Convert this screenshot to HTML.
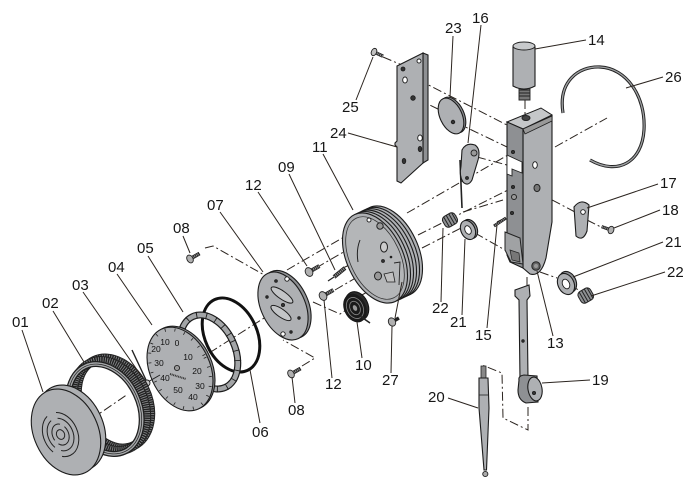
<!DOCTYPE html>
<html><head><meta charset="utf-8"><style>
html,body{margin:0;padding:0;background:#fff;}
svg{display:block}
text{font-family:"Liberation Sans",sans-serif;font-size:15px;fill:#161616}
.l{stroke:#2b241f;stroke-width:1;fill:none}
.d{stroke:#2b241f;stroke-width:1;fill:none;stroke-dasharray:9 3 2 3}
.g{fill:#aeb0b3;stroke:#1c1c1c;stroke-width:1.1}
.k{fill:#8e9093;stroke:#1c1c1c;stroke-width:1.1}
.lt{fill:#c3c5c7;stroke:#1c1c1c;stroke-width:1}
.h{fill:#fff;stroke:#1c1c1c;stroke-width:0.9}
.dk{fill:#333;stroke:#1c1c1c;stroke-width:0.8}
.n{font-size:8.5px;text-anchor:middle;fill:#111}
</style></head><body>
<svg width="700" height="485" viewBox="0 0 700 485" xmlns="http://www.w3.org/2000/svg">

<!-- dash-dot construction lines -->
<g class="d">
<polyline points="90,420 128,394"/>
<polyline points="195,362 283,306"/>
<polyline points="205,248 213,246 266,276"/>
<polyline points="302,366 315,358 283,340"/>
<polyline points="287,270 370,222"/>
<polyline points="316,268 378,232"/>
<polyline points="343,268 387,247"/>
<polyline points="313,302 340,314 352,306"/>
<polyline points="335,290 383,262"/>
<polyline points="360,296 382,284"/>
<polyline points="407,213 508,155"/>
<polyline points="418,235 512,188"/>
<polyline points="422,248 463,227"/>
<polyline points="475,233 535,267"/>
<polyline points="463,212 503,200"/>
<polyline points="403,72 507,125"/>
<polyline points="383,57 402,65"/>
<polyline points="415,98 440,110"/>
<polyline points="455,122 507,147"/>
<polyline points="477,157 507,165"/>
<polyline points="555,147 607,118"/>
<polyline points="537,192 575,212"/>
<polyline points="587,220 603,228"/>
<polyline points="525,100 525,115"/>
<polyline points="540,272 557,278"/>
<polyline points="570,285 582,292"/>
<polyline points="497,222 507,217"/>
<polyline points="527,277 527,286"/>
<polyline points="528,407 528,430 503,418 502,373 482,365"/>
</g>

<!-- 07 plate -->
<g transform="translate(286,304.5) rotate(-25)"><ellipse rx="22" ry="36" class="k"/></g>
<g transform="translate(283,306) rotate(-25)"><ellipse rx="22" ry="36" class="g"/></g>
<g transform="translate(282,295) rotate(35)"><ellipse rx="13" ry="4" class="lt"/></g>
<g transform="translate(281,313) rotate(35)"><ellipse rx="12" ry="4" class="lt"/></g>
<circle cx="287" cy="279" r="2.2" class="h"/>
<circle cx="276" cy="281" r="1.4" class="dk"/>
<circle cx="267" cy="297" r="1.3" class="dk"/>
<circle cx="299" cy="318" r="1.3" class="dk"/>
<circle cx="283" cy="334" r="2.2" class="h"/>
<circle cx="291" cy="332" r="1.3" class="dk"/>
<circle cx="283" cy="305" r="1.6" class="dk"/>

<!-- 06 O-ring -->
<g transform="translate(231,335) rotate(-25)"><ellipse rx="26" ry="39" fill="none" stroke="#111" stroke-width="3"/></g>

<!-- 05 wavy ring -->
<g transform="translate(209,352) rotate(-25)">
<ellipse rx="26" ry="39" fill="none" stroke="#1c1c1c" stroke-width="7"/>
<ellipse rx="26" ry="39" fill="none" stroke="#a3a5a7" stroke-width="4.6"/>
<ellipse rx="26" ry="39" fill="none" stroke="#1c1c1c" stroke-width="7" stroke-dasharray="0.9 9"/>
</g>

<!-- 04 dial -->
<g transform="translate(182,368) rotate(-25)"><ellipse rx="30" ry="44" class="k"/></g>
<g transform="translate(180,369) rotate(-25)"><ellipse rx="30" ry="44" class="g" fill="#b4b6b8"/>
<ellipse rx="27.5" ry="41.5" fill="none" stroke="#222" stroke-width="3" stroke-dasharray="0.8 9"/></g>
<text class="n" x="165" y="345">10</text>
<text class="n" x="177" y="346">0</text>
<text class="n" x="156" y="352">20</text>
<text class="n" x="159" y="366">30</text>
<text class="n" x="188" y="360">10</text>
<text class="n" x="197" y="374">20</text>
<text class="n" x="200" y="389">30</text>
<text class="n" x="193" y="400">40</text>
<text class="n" x="178" y="393">50</text>
<text class="n" x="165" y="381">40</text>
<circle cx="177" cy="368" r="2.6" fill="#999" stroke="#222" stroke-width="0.9"/>
<line x1="170" y1="374" x2="186" y2="379" stroke="#333" stroke-width="2" stroke-dasharray="1 0.7"/>

<!-- 03 needle -->
<line x1="132" y1="350" x2="146" y2="380" stroke="#222" stroke-width="1.4"/>
<line x1="146" y1="383" x2="160" y2="375" stroke="#222" stroke-width="1"/>
<circle cx="147" cy="383" r="3" fill="#c8c8c8" stroke="#222" stroke-width="0.9"/>

<!-- 02 bezel ring -->
<g transform="translate(114,403) rotate(-25)">
<ellipse rx="34" ry="47" fill="none" stroke="#222" stroke-width="9"/>
<ellipse rx="34" ry="47" fill="none" stroke="#8a8c8e" stroke-width="7" stroke-dasharray="0.8 1.4"/></g>
<g transform="translate(110,405.5) rotate(-25)">
<ellipse rx="34" ry="47" fill="none" stroke="#222" stroke-width="9"/>
<ellipse rx="34" ry="47" fill="none" stroke="#8a8c8e" stroke-width="7" stroke-dasharray="0.8 1.4"/></g>
<g transform="translate(105,409) rotate(-25)">
<ellipse rx="34" ry="47" fill="none" stroke="#1e1e1e" stroke-width="6"/>
<ellipse rx="34" ry="47" fill="none" stroke="#a6a8aa" stroke-width="3.5"/>
<ellipse rx="34" ry="47" fill="none" stroke="#1e1e1e" stroke-width="0.7"/></g>

<!-- 01 lens cover -->
<g transform="translate(71,428) rotate(-25)"><ellipse rx="32" ry="45" class="g"/></g>
<g transform="translate(66,432) rotate(-25)"><ellipse rx="32" ry="45" class="g" fill="#b8babc"/>
<g fill="none" stroke="#222" stroke-width="1">
<ellipse cx="-6" cy="0" rx="4" ry="5"/>
<ellipse cx="-6" cy="0" rx="8" ry="11" stroke-dasharray="22 5"/>
<ellipse cx="-6" cy="0" rx="12.5" ry="17" stroke-dasharray="30 7"/>
<ellipse cx="-6" cy="0" rx="17" ry="23" stroke-dasharray="40 10"/>
</g></g>

<!-- 11 housing -->
<g transform="translate(390,251) rotate(-25)"><ellipse rx="28" ry="48" class="g"/></g>
<g transform="translate(387,252.4) rotate(-25)"><ellipse rx="28" ry="48" class="g"/></g>
<g transform="translate(384,253.8) rotate(-25)"><ellipse rx="28" ry="48" class="g"/></g>
<g transform="translate(381,255.2) rotate(-25)"><ellipse rx="28" ry="48" class="g"/></g>
<g transform="translate(378,256.6) rotate(-25)"><ellipse rx="28" ry="48" class="g"/></g>
<g transform="translate(375,258) rotate(-25)"><ellipse rx="28" ry="48" class="g"/>
<ellipse rx="25" ry="44" fill="#b4b6b8" stroke="#333" stroke-width="0.8"/></g>
<circle cx="369" cy="220" r="2" class="h"/>
<circle cx="380" cy="226" r="3.2" fill="#999" stroke="#222"/>
<ellipse cx="384" cy="247" rx="3.5" ry="5" fill="#ccc" stroke="#222"/>
<circle cx="383" cy="261" r="1.5" class="dk"/>
<circle cx="391" cy="257" r="0.9" class="dk"/>
<ellipse cx="378" cy="276" rx="3.5" ry="4" fill="#999" stroke="#222"/>
<path d="M384,274 L393,272 L395,282 L387,282 Z" fill="#c0c0c0" stroke="#222" stroke-width="0.8"/>
<path d="M360,240 Q356,250 358,262" fill="none" stroke="#222"/>
<path d="M394,263 L400,262 L399,285" fill="none" stroke="#222" stroke-width="0.9"/>

<!-- 10 spring -->
<g transform="translate(357,306) rotate(-25)"><ellipse rx="11" ry="15" fill="#2a2a2a" stroke="#111"/></g>
<g transform="translate(355,308) rotate(-25)"><ellipse rx="11" ry="15" fill="#1a1a1a"/>
<ellipse rx="8" ry="11" fill="none" stroke="#888" stroke-width="0.8"/>
<ellipse rx="5" ry="7" fill="none" stroke="#888" stroke-width="0.8"/>
<ellipse rx="2" ry="3" fill="#999"/></g>
<line x1="360" y1="316" x2="370" y2="323" stroke="#222" stroke-width="1.5"/>

<!-- screws -->
<g transform="translate(190,259) rotate(-30)"><line x1="2" y1="0" x2="11" y2="0" stroke="#222" stroke-width="3.8"/><line x1="3" y1="0" x2="10.5" y2="0" stroke="#999" stroke-width="2.2" stroke-dasharray="1 0.9"/><ellipse rx="3" ry="4.2" fill="#b0b0b0" stroke="#222" stroke-width="0.9"/></g>
<g transform="translate(291,374) rotate(-30)"><line x1="2" y1="0" x2="11" y2="0" stroke="#222" stroke-width="3.8"/><line x1="3" y1="0" x2="10.5" y2="0" stroke="#999" stroke-width="2.2" stroke-dasharray="1 0.9"/><ellipse rx="3" ry="4.2" fill="#b0b0b0" stroke="#222" stroke-width="0.9"/></g>
<g transform="translate(309,272) rotate(-30)"><line x1="2" y1="0" x2="12" y2="0" stroke="#222" stroke-width="4"/><line x1="3" y1="0" x2="11.5" y2="0" stroke="#999" stroke-width="2.4" stroke-dasharray="1 0.9"/><ellipse rx="3.6" ry="4.6" fill="#b0b0b0" stroke="#222" stroke-width="0.9"/></g>
<g transform="translate(323,296) rotate(-30)"><line x1="2" y1="0" x2="12" y2="0" stroke="#222" stroke-width="4"/><line x1="3" y1="0" x2="11.5" y2="0" stroke="#999" stroke-width="2.4" stroke-dasharray="1 0.9"/><ellipse rx="3.6" ry="4.6" fill="#b0b0b0" stroke="#222" stroke-width="0.9"/></g>
<g transform="translate(392,322) rotate(-30)"><line x1="2" y1="0" x2="8" y2="0" stroke="#222" stroke-width="3.5"/><ellipse rx="3.5" ry="4.3" fill="#b0b0b0" stroke="#222" stroke-width="0.9"/></g>
<g transform="translate(374,52) rotate(25)"><line x1="2" y1="0" x2="10" y2="0" stroke="#222" stroke-width="3.4"/><line x1="3" y1="0" x2="9.5" y2="0" stroke="#999" stroke-width="2" stroke-dasharray="1 0.9"/><ellipse rx="2.6" ry="3.8" fill="#c0c0c0" stroke="#222" stroke-width="0.9"/></g>
<g transform="translate(611,230) rotate(200)"><line x1="2" y1="0" x2="10" y2="0" stroke="#222" stroke-width="3.2"/><line x1="3" y1="0" x2="9.5" y2="0" stroke="#999" stroke-width="1.8" stroke-dasharray="1 0.9"/><ellipse rx="2.8" ry="3.8" fill="#b0b0b0" stroke="#222" stroke-width="0.9"/></g>
<!-- 09 -->
<line x1="334" y1="277" x2="345" y2="268" stroke="#222" stroke-width="4.2"/>
<line x1="334" y1="277" x2="345" y2="268" stroke="#999" stroke-width="2.6" stroke-dasharray="1 1"/>
<line x1="328" y1="281" x2="334" y2="277" stroke="#222" stroke-width="1.2"/>

<!-- 24 plate -->
<path d="M423,53 L428,55 L428,160 L423,163 Z" class="k"/>
<path d="M397,66 L423,53 L423,163 L401,183 L397,181 L397,147 L395,145 L395,143 L397,141 Z" class="g"/>
<circle cx="403" cy="69" r="2" class="dk"/>
<circle cx="419" cy="61" r="2" class="h"/>
<ellipse cx="405" cy="80" rx="2.3" ry="3" class="h"/>
<circle cx="413" cy="98" r="2.3" class="dk"/>
<ellipse cx="420" cy="138" rx="2.3" ry="3" class="h"/>
<ellipse cx="420" cy="149" rx="1.8" ry="2.6" class="dk"/>
<ellipse cx="404" cy="161" rx="1.8" ry="2.6" class="dk"/>

<!-- 23 disc -->
<g transform="translate(453,115) rotate(-25)"><ellipse rx="11" ry="19" class="k"/></g>
<g transform="translate(451,116) rotate(-25)"><ellipse rx="11" ry="19" class="g" fill="#b8babc"/></g>
<circle cx="453" cy="122" r="1.8" class="dk"/>

<!-- 16 lever -->
<line x1="460" y1="160" x2="462" y2="208" stroke="#222" stroke-width="1.6"/>
<path d="M462,150 Q466,142 475,145 Q481,149 478,160 L472,180 Q468,187 463,182 Q459,176 461,166 Z" class="g"/>
<circle cx="474" cy="153" r="3" fill="#999" stroke="#222" stroke-width="0.9"/>
<circle cx="467" cy="178" r="1.5" class="dk"/>

<!-- 14 knob -->
<path d="M519,88 L530,88 L530,100 L519,100 Z" fill="#777" stroke="#222" stroke-width="0.9"/>
<path d="M519,90 L530,90 M519,93 L530,93 M519,96 L530,96" stroke="#222" stroke-width="1"/>
<path d="M513,47 L535,47 L535,86 Q524,92 513,86 Z" class="g"/>
<ellipse cx="524" cy="46" rx="11" ry="4" fill="#c8cacc" stroke="#222" stroke-width="1"/>

<!-- 26 wire -->
<path d="M563,113 C558,82 578,66 600,67 C626,68 646,96 644,130 C642,162 618,176 590,160" fill="none" stroke="#222" stroke-width="3.2"/>
<path d="M563,113 C558,82 578,66 600,67 C626,68 646,96 644,130 C642,162 618,176 590,160" fill="none" stroke="#a0a2a4" stroke-width="1.3"/>

<!-- 13 lever body -->
<path d="M523,129 L552,116 L552,222 L546,258 Q541,277 530,274 L523,268 Z" class="g"/>
<path d="M507,122 L541,108 L552,115 L523,129 Z" fill="#c5c7c9" stroke="#1c1c1c" stroke-width="1"/>
<path d="M523,129 L552,116 L552,121 L525,134 Z" fill="#999" stroke="#1c1c1c" stroke-width="0.8"/>
<ellipse cx="526" cy="118" rx="4" ry="2.5" fill="#444" stroke="#222"/>
<path d="M507,122 L523,129 L523,268 L510,262 L507,255 Z" class="k"/>
<path d="M507,155 L522,162 L522,173 L512,169 L512,176 L507,174 Z" fill="#fff" stroke="#222" stroke-width="0.9"/>
<path d="M505,232 L520,238 L523,264 L511,262 L505,250 Z" fill="#a0a2a4" stroke="#222" stroke-width="1"/>
<path d="M510,250 L519,253 L520,262 L512,260 Z" fill="#777" stroke="#222" stroke-width="0.7"/>
<ellipse cx="535" cy="165" rx="2.3" ry="3.3" class="h"/>
<ellipse cx="537" cy="188" rx="3" ry="3.6" fill="#777" stroke="#222"/>
<circle cx="536" cy="266" r="4.2" fill="#666" stroke="#222"/>
<circle cx="536" cy="266" r="2" fill="#999"/>
<circle cx="513" cy="152" r="1.6" class="dk"/>
<circle cx="513" cy="187" r="1.6" class="dk"/>
<circle cx="514" cy="197" r="2.5" fill="#999" stroke="#222"/>
<circle cx="512" cy="213" r="1.6" class="dk"/>

<!-- 17 cam -->
<path d="M574,207 Q581,198 589,205 L587,231 Q583,242 576,236 Z" class="g"/>
<circle cx="583" cy="212" r="2.3" class="h"/>

<!-- 22 left -->
<g transform="translate(450,220) rotate(-30)"><rect x="-7" y="-6" width="14" height="12" rx="4" fill="#8e9093" stroke="#222"/>
<path d="M-4,-6 L-4,6 M-1,-6 L-1,6 M2,-6 L2,6 M5,-5 L5,5" stroke="#222" stroke-width="1"/></g>
<!-- 21 left -->
<g transform="translate(470,229) rotate(-25)"><ellipse rx="7" ry="10" class="k"/></g>
<g transform="translate(468,230) rotate(-25)"><ellipse rx="7" ry="10" class="g"/><ellipse rx="3" ry="4.5" class="h"/></g>
<!-- 15 pin -->
<line x1="494" y1="226" x2="506" y2="218" stroke="#222" stroke-width="3"/>
<line x1="495" y1="225.5" x2="505" y2="218.5" stroke="#999" stroke-width="1.6" stroke-dasharray="1 0.9"/>

<!-- 21 right -->
<g transform="translate(568,282) rotate(-25)"><ellipse rx="8" ry="11" class="k"/></g>
<g transform="translate(566,284) rotate(-25)"><ellipse rx="8" ry="11" class="g"/><ellipse rx="3.5" ry="5" class="h"/></g>
<!-- 22 right -->
<g transform="translate(586,296) rotate(-30)"><rect x="-7" y="-7" width="14" height="13" rx="4" fill="#8e9093" stroke="#222"/>
<path d="M-4,-7 L-4,6 M-1,-7 L-1,6 M2,-7 L2,6 M5,-6 L5,5" stroke="#222" stroke-width="1"/></g>

<!-- 19 arm -->
<path d="M515,290 L529,285 L530,296 L527,300 L528,378 L520,380 L519,300 L515,296 Z" class="g"/>
<circle cx="523" cy="341" r="1.3" class="dk"/>
<path d="M519,380 Q518,376 524,375 L537,376 L538,402 L526,403 Q518,400 518,390 Z" class="k"/>
<g transform="translate(535,389) rotate(-10)"><ellipse rx="7" ry="12" class="g" fill="#b8babc"/></g>
<circle cx="534" cy="393" r="1.6" class="dk"/>

<!-- 20 rod -->
<path d="M481,366 L486,366 L486,378 L481,378 Z" fill="#888" stroke="#222" stroke-width="0.8"/>
<path d="M479,378 L488,378 L489,408 L486.5,470 L484,470 L479,408 Z" class="g"/>
<line x1="479" y1="395" x2="488" y2="395" stroke="#222" stroke-width="0.8"/>
<circle cx="485.3" cy="474" r="2.6" fill="#aaa" stroke="#222" stroke-width="0.9"/>

<!-- leader lines -->
<g class="l">
<line x1="22" y1="330" x2="43" y2="392"/>
<line x1="53" y1="311" x2="84" y2="362"/>
<line x1="83" y1="292" x2="142" y2="377"/>
<line x1="117" y1="274" x2="152" y2="325"/>
<line x1="148" y1="256" x2="183" y2="312"/>
<line x1="183" y1="236" x2="190" y2="253"/>
<line x1="220" y1="212" x2="263" y2="272"/>
<line x1="258" y1="192" x2="307" y2="266"/>
<line x1="289" y1="174" x2="335" y2="270"/>
<line x1="323" y1="154" x2="353" y2="210"/>
<line x1="348" y1="133" x2="397" y2="147"/>
<line x1="356" y1="100" x2="373" y2="57"/>
<line x1="453" y1="36" x2="450" y2="97"/>
<line x1="481" y1="25" x2="468" y2="143"/>
<line x1="586" y1="40" x2="535" y2="49"/>
<line x1="663" y1="77" x2="626" y2="88"/>
<line x1="658" y1="184" x2="587" y2="208"/>
<line x1="660" y1="210" x2="614" y2="228"/>
<line x1="663" y1="242" x2="573" y2="277"/>
<line x1="665" y1="272" x2="591" y2="296"/>
<line x1="553" y1="336" x2="537" y2="271"/>
<line x1="590" y1="380" x2="542" y2="383"/>
<line x1="448" y1="398" x2="478" y2="408"/>
<line x1="487" y1="328" x2="497" y2="225"/>
<line x1="462" y1="315" x2="465" y2="239"/>
<line x1="441" y1="302" x2="443" y2="228"/>
<line x1="391" y1="373" x2="392" y2="326"/>
<line x1="395" y1="318" x2="402" y2="282"/>
<line x1="362" y1="358" x2="357" y2="322"/>
<line x1="332" y1="378" x2="324" y2="300"/>
<line x1="295" y1="403" x2="292" y2="377"/>
<line x1="260" y1="423" x2="250" y2="370"/>
</g>

<!-- labels -->
<text x="12" y="327">01</text>
<text x="42" y="308">02</text>
<text x="72" y="290">03</text>
<text x="108" y="272">04</text>
<text x="137" y="253">05</text>
<text x="173" y="233">08</text>
<text x="207" y="210">07</text>
<text x="245" y="190">12</text>
<text x="278" y="172">09</text>
<text x="312" y="152">11</text>
<text x="330" y="138">24</text>
<text x="342" y="112">25</text>
<text x="445" y="33">23</text>
<text x="472" y="23">16</text>
<text x="588" y="45">14</text>
<text x="665" y="82">26</text>
<text x="660" y="188">17</text>
<text x="662" y="215">18</text>
<text x="665" y="247">21</text>
<text x="667" y="277">22</text>
<text x="547" y="348">13</text>
<text x="592" y="385">19</text>
<text x="428" y="402">20</text>
<text x="475" y="340">15</text>
<text x="450" y="327">21</text>
<text x="432" y="313">22</text>
<text x="382" y="385">27</text>
<text x="355" y="370">10</text>
<text x="325" y="389">12</text>
<text x="288" y="415">08</text>
<text x="252" y="437">06</text>
</svg>
</body></html>
